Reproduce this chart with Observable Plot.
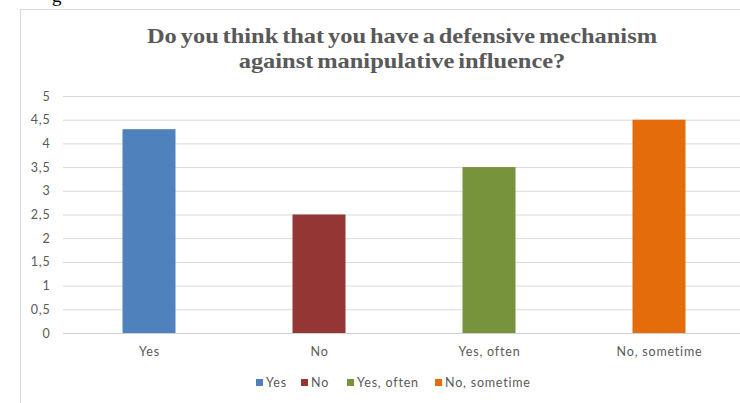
<!DOCTYPE html>
<html>
<head>
<meta charset="utf-8">
<script src="https://cdn.jsdelivr.net/npm/d3@7"></script>
<script src="https://cdn.jsdelivr.net/npm/@observablehq/plot@0.6"></script>
<style>
  html, body { margin: 0; padding: 0; background: #fff; }
  #page { position: relative; width: 740px; height: 403px; overflow: hidden; background: #fff; }
  #frame { position: absolute; left: 20px; top: 9px; width: 900px; height: 600px; border: 1px solid #d9d9d9; box-sizing: border-box; }
  #frag { position: absolute; left: 52px; top: -15px; font: 19px "Liberation Serif", serif; color: #000; }
  #title { position: absolute; left: 0; width: 804px; top: 23px; text-align: center;
           font: bold 22px/25px "Liberation Serif", "Times New Roman", serif; color: #595959;
           transform: scaleX(1.11); transform-origin: 402px 0; word-spacing: -2px; }
  #chart { position: absolute; left: 0; top: 80px; }
  #legend { position: absolute; top: 375px; left: 0; width: 740px; height: 20px;
            font: 12.5px Lato, "Open Sans", sans-serif; color: #595959; letter-spacing: 0.8px; }
  #legend .item { position: absolute; top: 0; display: flex; align-items: center; white-space: nowrap; }
  #legend .sw { width: 7px; height: 7px; margin-right: 3px; }
</style>
</head>
<body>
<div id="page">
  <div id="frag">g</div>
  <div id="frame"></div>
  <div id="title"></div>
  <div id="chart"></div>
  <div id="legend"></div>
</div>
<script>
const categories = ["Yes", "No", "Yes, often", "No, sometime"];
const values = [4.3, 2.5, 3.5, 4.5];
const colors = ["#4F81BD", "#943634", "#77933C", "#E46C0A"];
const yTicks = [0, 0.5, 1, 1.5, 2, 2.5, 3, 3.5, 4, 4.5, 5];
const chartTitle = ["Do you think that you have a defensive mechanism", "against manipulative influence?"];

document.getElementById("title").innerHTML = chartTitle.join("<br>");

const data = categories.map((c, i) => ({category: c, value: values[i]}));

const plot = Plot.plot({
  width: 740,
  height: 290,
  marginLeft: 63,
  marginRight: 0,
  marginTop: 16,
  marginBottom: 37,
  style: {fontFamily: "Lato, 'Open Sans', sans-serif", fontSize: "12.5px", color: "#595959",
          background: "transparent", letterSpacing: "0.8px"},
  x: {domain: categories, range: [63.5, 743.5], padding: 0, label: null},
  y: {domain: [0, 5], label: null},
  color: {domain: categories, range: colors},
  marks: [
    Plot.ruleY(yTicks, {stroke: "#d9d9d9", strokeWidth: 1}),
    Plot.barY(data, {x: "category", y: "value", fill: "category", insetLeft: 58.5, insetRight: 58.5}),
    Plot.ruleY([0], {stroke: "#d0d0d0", strokeWidth: 1}),
    Plot.axisY(yTicks, {tickSize: 0, tickPadding: 13, fill: "#595959",
      tickFormat: d => String(d).replace(".", ",")}),
    Plot.axisX({tickSize: 0, tickPadding: 14, fill: "#595959"})
  ]
});
document.getElementById("chart").appendChild(plot);

const legendX = [256, 301, 347, 435];
const legend = document.getElementById("legend");
categories.forEach((c, i) => {
  const item = document.createElement("div");
  item.className = "item";
  item.style.left = legendX[i] + "px";
  const sw = document.createElement("div");
  sw.className = "sw";
  sw.style.background = colors[i];
  const t = document.createElement("span");
  t.textContent = c;
  item.appendChild(sw);
  item.appendChild(t);
  legend.appendChild(item);
});
</script>
</body>
</html>
